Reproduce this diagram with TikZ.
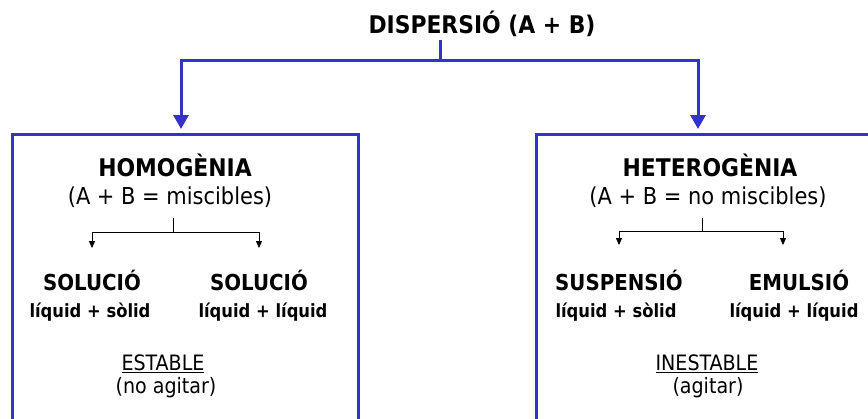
\documentclass[tikz,border=0pt]{standalone}
\usepackage{fontspec}
\setmainfont{DejaVu Sans Condensed}
\usetikzlibrary{arrows.meta,calc}
\definecolor{dblue}{RGB}{51,51,204}

\begin{document}
\begin{tikzpicture}[x=1pt,y=-1pt,
    big/.style={anchor=base,font=\fontsize{24.3}{27}\selectfont\bfseries},
    sub/.style={anchor=base,font=\fontsize{23.3}{26}\selectfont},
    kind/.style={anchor=base,font=\fontsize{22}{25}\selectfont\bfseries},
    mix/.style={anchor=base,font=\fontsize{18.2}{21}\selectfont\bfseries},
    note/.style={anchor=base,font=\fontsize{21.2}{24}\selectfont},
    blueline/.style={dblue,line width=3pt},
    bluearrow/.style={blueline,-{Triangle[width=15pt,length=14pt]}},
    thinarrow/.style={line width=0.8pt,-{Triangle[width=6pt,length=7pt]}}]
    \useasboundingbox (0,0) rectangle (868,418);
    % top
    \node[big] (disp) at (482,33) {DISPERSIÓ (A + B)};
    \coordinate (split) at (440,60);
    \coordinate (ltop) at (181,134);
    \coordinate (rtop) at (698,134);
    \draw[blueline] (disp.south -| split) -- (split);
    \draw[bluearrow,shorten >=5pt] (split) -| (ltop);
    \draw[bluearrow,shorten >=5pt] (split) -| (rtop);
    % boxes
    \draw[blueline] (12,422) -- (12,134) -- (358,134) -- (358,422);
    \draw[blueline] (536,422) -- (536,134) -- (872,134);
    % left box
    \begin{scope}
      \node[big] (hom) at (175,176) {HOMOGÈNIA};
      \node[sub] (homsub) at (170,204) {(A + B = miscibles)};
      \node[kind] (sol1) at (92,290) {SOLUCIÓ};
      \node[mix] (sol1b) at (90,317) {líquid + sòlid};
      \node[kind] (sol2) at (259,290) {SOLUCIÓ};
      \node[mix] (sol2b) at (263,317) {líquid + líquid};
      \node[note] (est) at (163,370) {\underline{ESTABLE}};
      \node[note] (estb) at (166,393) {(no agitar)};
      \coordinate (hs) at (173,218);
      \coordinate (hj) at (173,232);
      \draw[line width=0.8pt] (hs) -- (hj);
      \draw[thinarrow] (hj) -| ([yshift=18pt]sol1.north);
      \draw[thinarrow] (hj) -| ([yshift=18pt]sol2.north);
    \end{scope}
    % right box
    \begin{scope}
      \node[big] (het) at (710,176) {HETEROGÈNIA};
      \node[sub] (hetsub) at (708,204) {(A + B = no miscibles)};
      \node[kind] (susp) at (619,290) {SUSPENSIÓ};
      \node[mix] (suspb) at (616,317) {líquid + sòlid};
      \node[kind] (emul) at (799,290) {EMULSIÓ};
      \node[mix] (emulb) at (794,317) {líquid + líquid};
      \node[note] (inest) at (707,370) {\underline{INESTABLE}};
      \node[note] (inestb) at (708,393) {(agitar)};
      \coordinate (ts) at (702,218);
      \coordinate (tj) at (702,231);
      \draw[line width=0.8pt] (ts) -- (tj);
      \draw[thinarrow] (tj) -| ([yshift=21pt]susp.north);
      \draw[thinarrow] (tj) -| ([yshift=21pt]emul.north -| 783,0);
    \end{scope}
  \end{tikzpicture}
\end{document}
